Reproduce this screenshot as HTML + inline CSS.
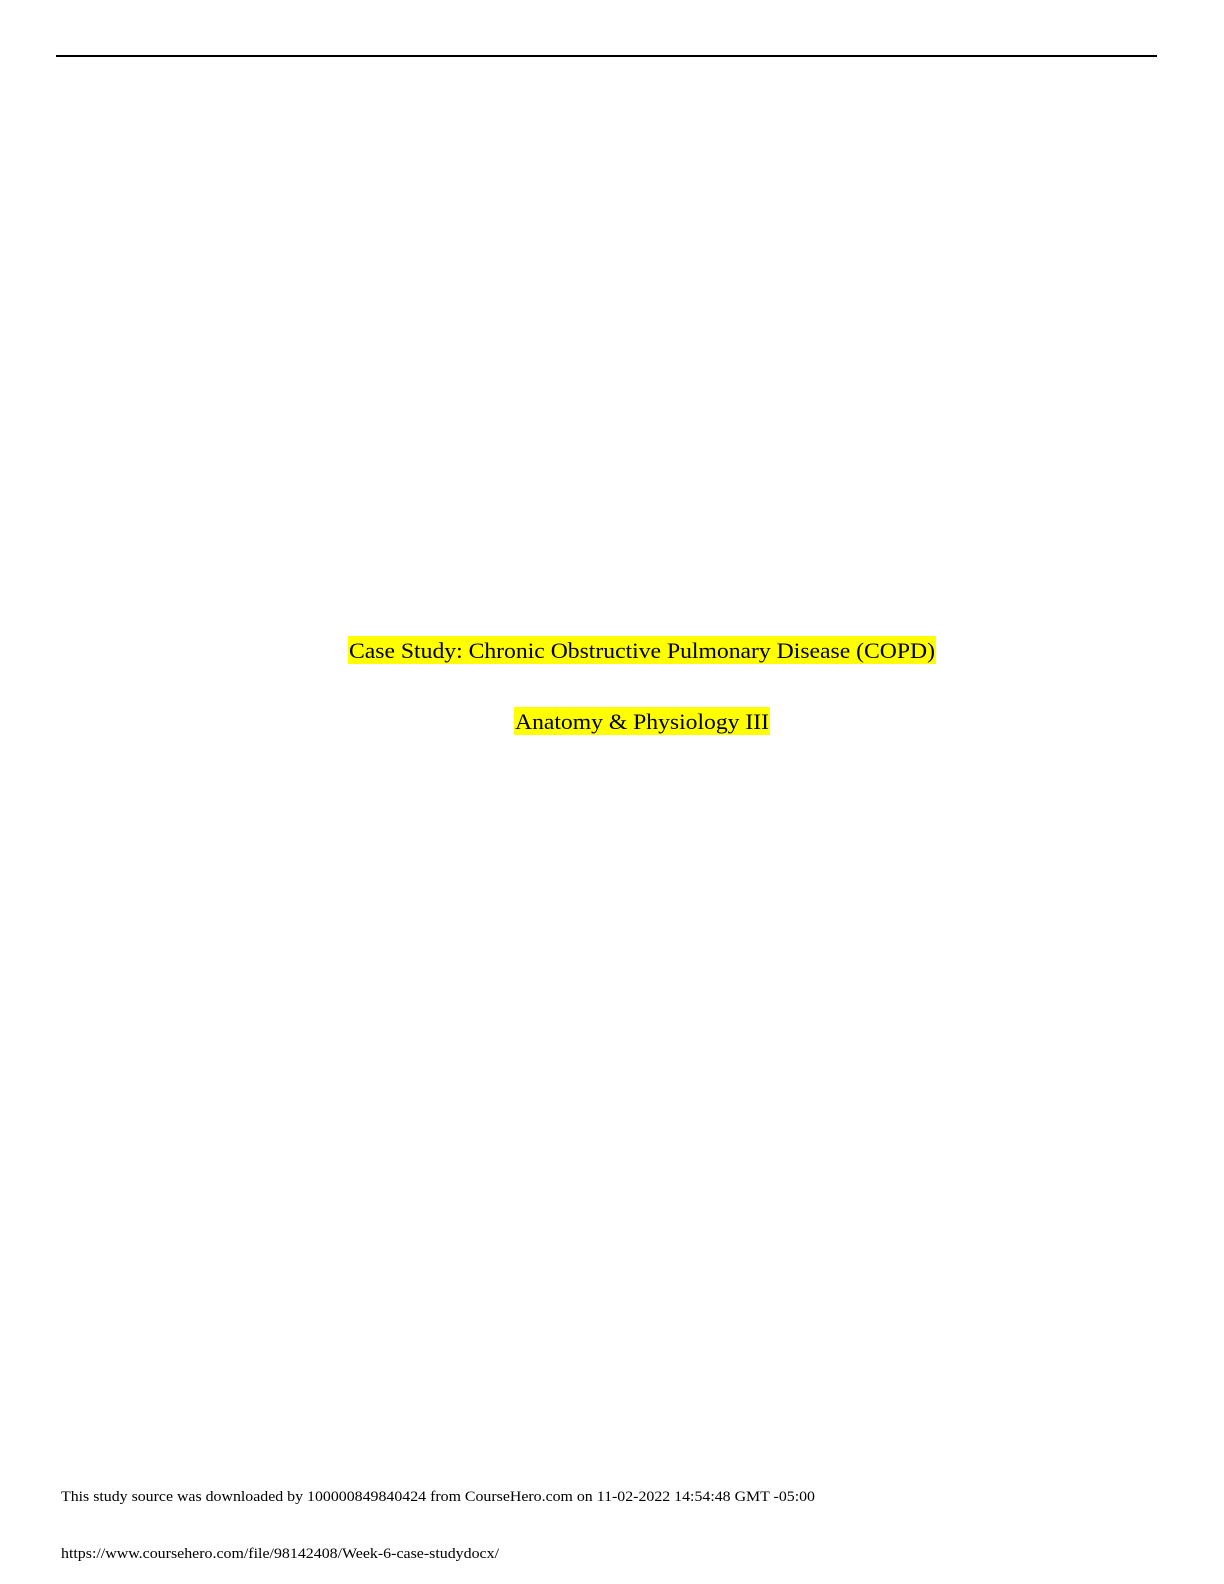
<!DOCTYPE html>
<html><head><meta charset="utf-8"><style>
html,body{margin:0;padding:0;background:#fff;}
body{width:1224px;height:1584px;position:relative;overflow:hidden;}
svg{position:absolute;left:0;top:0;}
</style></head><body>
<svg width="1224" height="1584" xmlns="http://www.w3.org/2000/svg" font-family="Liberation Serif, serif">
<line x1="56" y1="56" x2="1157" y2="56" stroke="#000" stroke-width="2"/>
<rect x="348" y="636" width="588" height="28" fill="#ffff00"/>
<text x="349" y="658" font-size="22" textLength="586" lengthAdjust="spacingAndGlyphs">Case Study: Chronic Obstructive Pulmonary Disease (COPD)</text>
<rect x="514" y="707" width="256" height="28" fill="#ffff00"/>
<text x="515" y="729" font-size="22" textLength="254" lengthAdjust="spacingAndGlyphs">Anatomy &amp; Physiology III</text>
<text x="61" y="1501" font-size="15" textLength="754" lengthAdjust="spacingAndGlyphs">This study source was downloaded by 100000849840424 from CourseHero.com on 11-02-2022 14:54:48 GMT -05:00</text>
<text x="61" y="1558" font-size="15" textLength="438" lengthAdjust="spacingAndGlyphs">https://www.coursehero.com/file/98142408/Week-6-case-studydocx/</text>
</svg>
</body></html>
